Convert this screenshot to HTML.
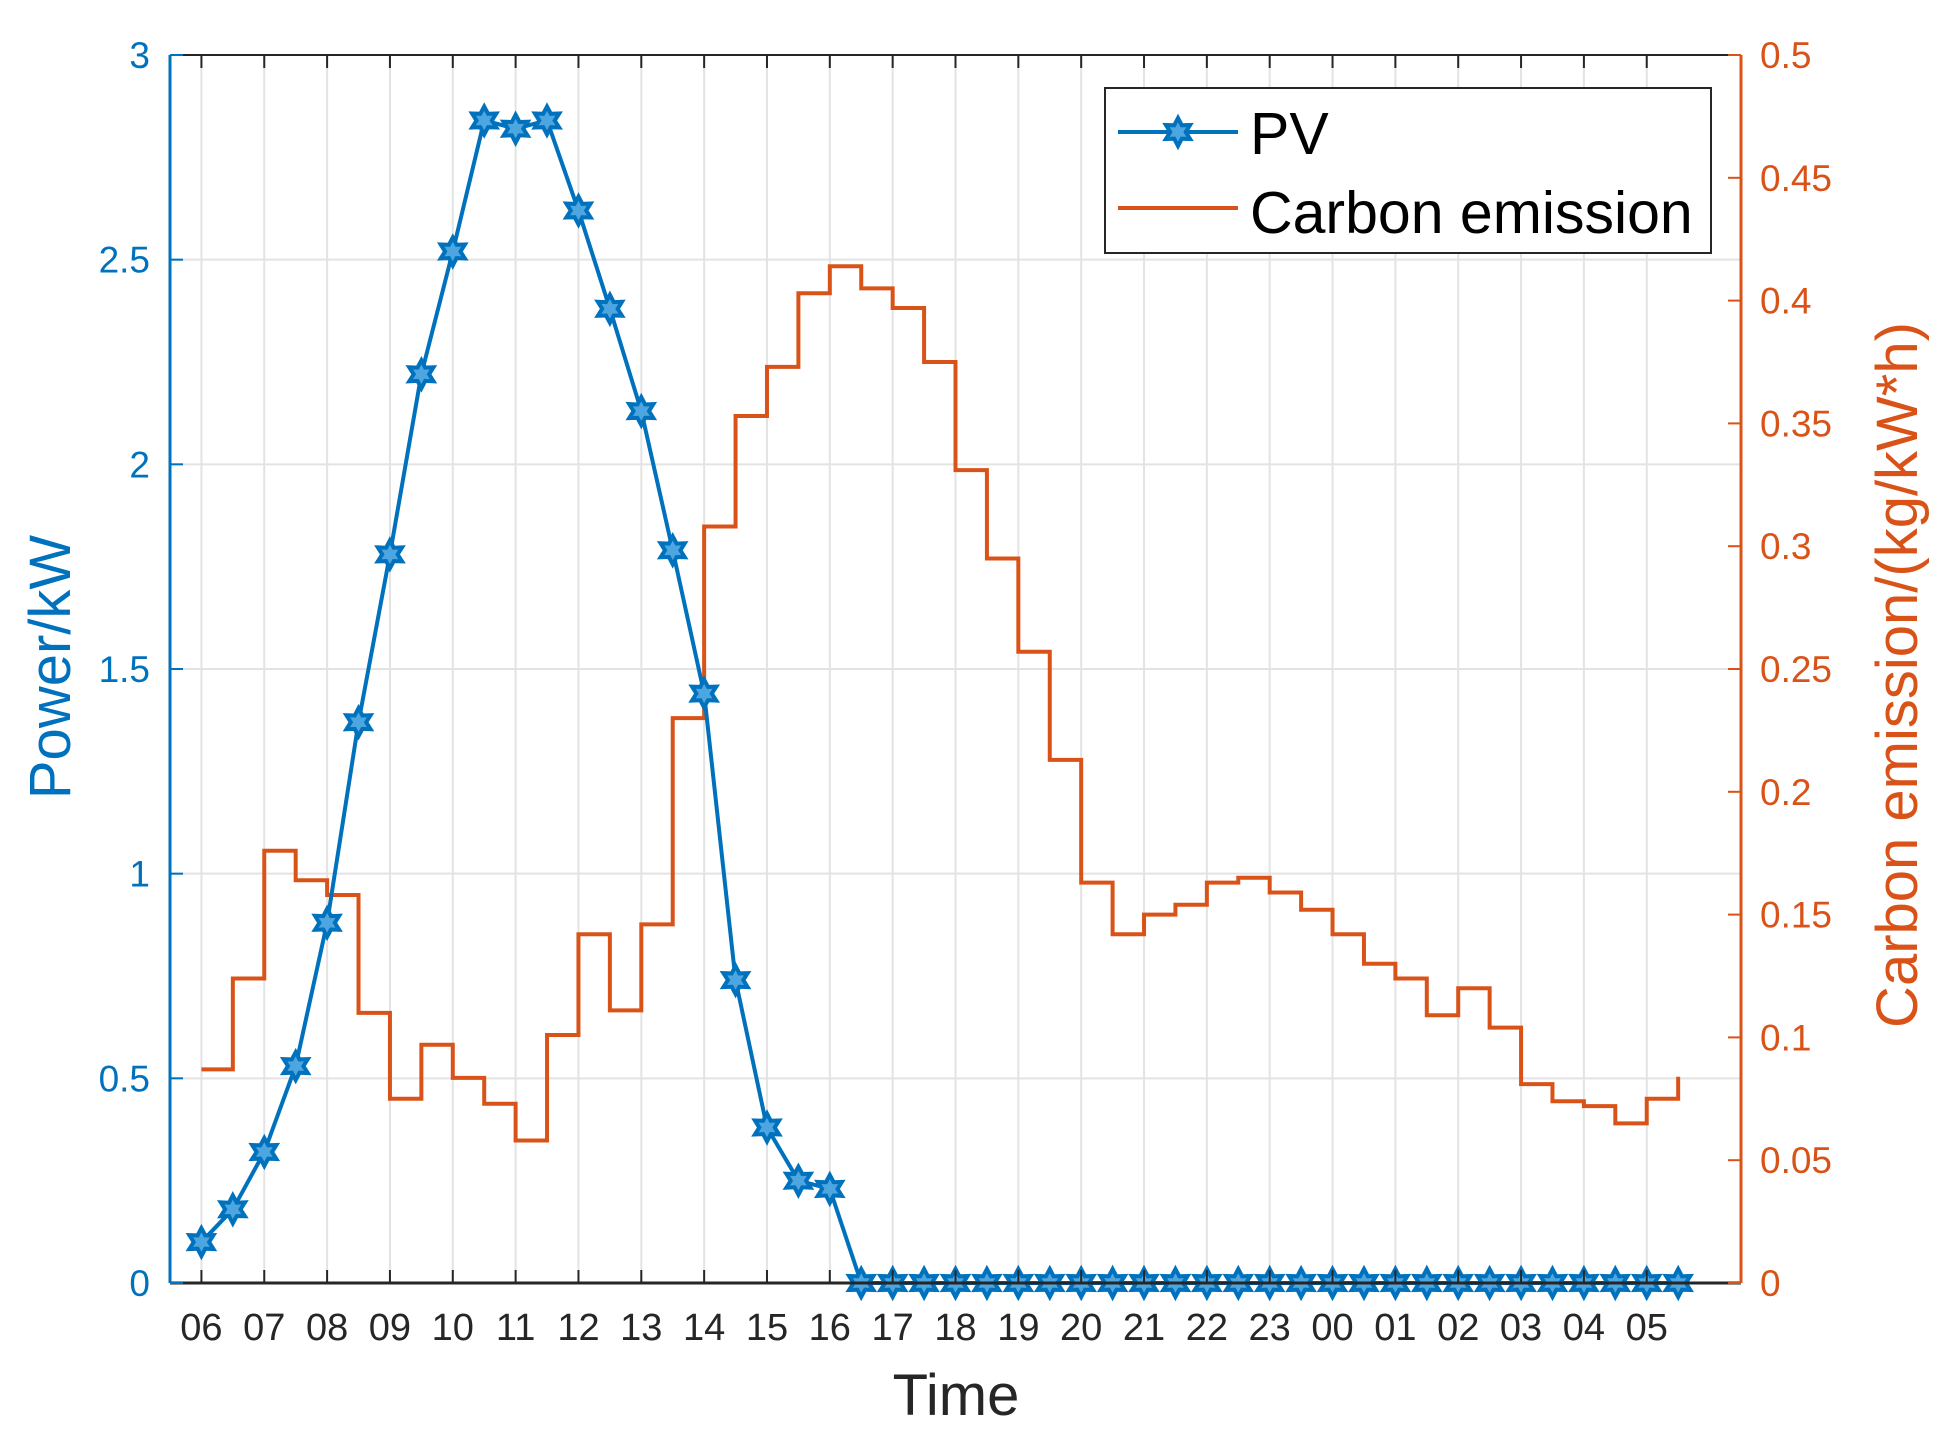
<!DOCTYPE html>
<html><head><meta charset="utf-8"><style>
html,body{margin:0;padding:0;background:#fff;}
svg{display:block;font-family:"Liberation Sans",Arial,sans-serif;}
</style></head><body>
<svg id="chart" width="1959" height="1441" viewBox="0 0 1959 1441" xmlns="http://www.w3.org/2000/svg">
<rect x="0" y="0" width="1959" height="1441" fill="#fff"/>
<g id="grid"></g>
<g id="series"></g>
<g id="axes"></g>
<text x="0" y="0" transform="translate(70,667) rotate(-90)" text-anchor="middle" font-size="58" fill="#0072BD">Power/kW</text>
<text x="0" y="0" transform="translate(1917,675) rotate(-90)" text-anchor="middle" font-size="58" fill="#D95319">Carbon emission/(kg/kW*h)</text>
<text x="956" y="1415" text-anchor="middle" font-size="58" fill="#262626">Time</text>
<g>
<rect x="1105" y="88" width="606" height="165" fill="#fff" stroke="#262626" stroke-width="2"/>
<line x1="1118" y1="132" x2="1238" y2="132" stroke="#0072BD" stroke-width="4"/>
<polygon id="legstar" points="" fill="#4da6e0" stroke="#0072BD" stroke-width="4"/>
<text x="1250" y="154" font-size="59" fill="#000">PV</text>
<line x1="1118" y1="208" x2="1238" y2="208" stroke="#D95319" stroke-width="4"/>
<text x="1250" y="233" font-size="59" fill="#000">Carbon emission</text>
</g>
</svg>
<script>
const hourLabels=["06","07","08","09","10","11","12","13","14","15","16","17","18","19","20","21","22","23","00","01","02","03","04","05"];
const pvValues=[0.1,0.18,0.32,0.53,0.88,1.37,1.78,2.22,2.52,2.84,2.82,2.84,2.62,2.38,2.13,1.79,1.44,0.74,0.38,0.25,0.23,0,0,0,0,0,0,0,0,0,0,0,0,0,0,0,0,0,0,0,0,0,0,0,0,0,0,0];
const carbonValues=[0.087,0.124,0.176,0.164,0.158,0.110,0.075,0.097,0.0835,0.073,0.058,0.101,0.142,0.111,0.146,0.230,0.308,0.353,0.373,0.403,0.414,0.405,0.397,0.375,0.331,0.295,0.257,0.213,0.163,0.142,0.150,0.154,0.163,0.165,0.159,0.152,0.142,0.130,0.124,0.109,0.120,0.104,0.081,0.074,0.072,0.065,0.075,0.084];
const leftTicks=[0,0.5,1,1.5,2,2.5,3];
const rightTicks=[0,0.05,0.1,0.15,0.2,0.25,0.3,0.35,0.4,0.45,0.5];
const L=170,R=1741,T=55,B=1283;
const NS="http://www.w3.org/2000/svg";
function x(i){return L+(i+1)*(R-L)/50;}
function yL(v){return B-(v/3)*(B-T);}
function yR(v){return B-(v/0.5)*(B-T);}
function mk(tag,attrs,parent){const e=document.createElementNS(NS,tag);for(const k in attrs)e.setAttribute(k,attrs[k]);parent.appendChild(e);return e;}
function star(cx,cy,r){let p=[];for(let k=0;k<12;k++){const a=Math.PI/2+k*Math.PI/6;const rr=k%2?r*0.55:r;p.push((cx+rr*Math.cos(a)).toFixed(1)+","+(cy-rr*Math.sin(a)).toFixed(1));}return p.join(" ");}
const grid=document.getElementById('grid'),series=document.getElementById('series'),axes=document.getElementById('axes');
hourLabels.forEach((h,k)=>{const g=mk('line',{x1:x(2*k),x2:x(2*k),y1:T,y2:B,stroke:'#e3e3e3','stroke-width':2},grid);

});
leftTicks.forEach(v=>{const g=mk('line',{x1:L,x2:R,y1:yL(v),y2:yL(v),stroke:'#e3e3e3','stroke-width':2},grid);

});
let d="";carbonValues.forEach((v,i)=>{if(i==0)d+="M"+x(i)+","+yR(v);else d+=" V"+yR(v);if(i<carbonValues.length-1)d+=" H"+x(i+1);});
const cp=mk('path',{d:d,fill:'none',stroke:'#D95319','stroke-width':4},series);


const pl=mk('polyline',{points:pvValues.map((v,i)=>x(i)+","+yL(v)).join(" "),fill:'none',stroke:'#0072BD','stroke-width':4,'stroke-linejoin':'round'},series);


pvValues.forEach((v,i)=>{const s=mk('polygon',{points:star(x(i),yL(v),14),fill:'#4da6e0',stroke:'#0072BD','stroke-width':4},series);

});
document.getElementById('legstar').setAttribute('points',star(1178,132,14));
mk('line',{x1:L,x2:R,y1:B,y2:B,stroke:'#262626','stroke-width':3},axes);
mk('line',{x1:L,x2:R,y1:T,y2:T,stroke:'#262626','stroke-width':2},axes);
mk('line',{x1:L,x2:L,y1:T,y2:B,stroke:'#0072BD','stroke-width':3},axes);
mk('line',{x1:R,x2:R,y1:T,y2:B,stroke:'#D95319','stroke-width':3},axes);
hourLabels.forEach((h,k)=>{const xx=x(2*k);
mk('line',{x1:xx,x2:xx,y1:B,y2:B-13,stroke:'#262626','stroke-width':2},axes);
mk('line',{x1:xx,x2:xx,y1:T,y2:T+13,stroke:'#262626','stroke-width':2},axes);
const t=mk('text',{x:xx,y:1340,'text-anchor':'middle','font-size':38,fill:'#262626'},axes);t.textContent=h;

});
leftTicks.forEach(v=>{const yy=yL(v);mk('line',{x1:L,x2:L+13,y1:yy,y2:yy,stroke:'#0072BD','stroke-width':2},axes);
const t=mk('text',{x:150,y:yy+13,'text-anchor':'end','font-size':37,fill:'#0072BD'},axes);t.textContent=String(v);

});
rightTicks.forEach(v=>{const yy=yR(v);mk('line',{x1:R,x2:R-13,y1:yy,y2:yy,stroke:'#D95319','stroke-width':2},axes);
const t=mk('text',{x:1760,y:yy+13,'text-anchor':'start','font-size':37,fill:'#D95319'},axes);t.textContent=String(v);

});
</script>
</body></html>
